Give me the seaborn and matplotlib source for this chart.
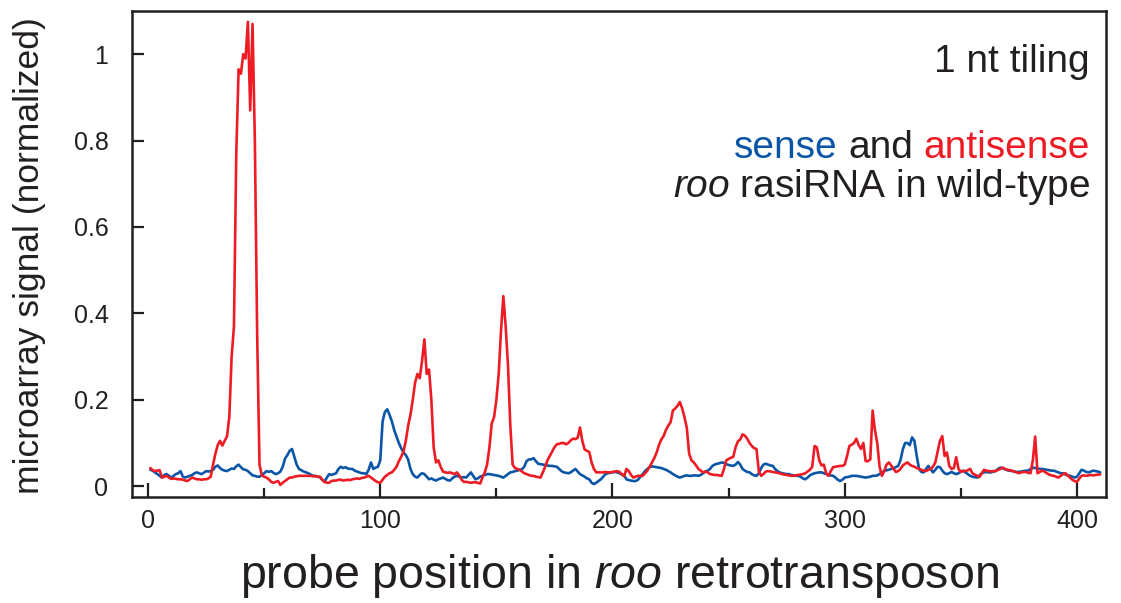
import matplotlib
matplotlib.use("Agg")
import matplotlib.pyplot as plt
import pandas as pd
import seaborn as sns

# Probe positions along roo (1 nt tiling)
positions = list(range(1, 411))

# Normalized microarray signal, sense strand
sense = [
    0.038, 0.036, 0.032, 0.028, 0.024, 0.020, 0.026, 0.028, 0.024, 0.020,
    0.024, 0.028, 0.030, 0.035, 0.022, 0.020, 0.022, 0.024, 0.026, 0.030,
    0.032, 0.030, 0.028, 0.031, 0.035, 0.034, 0.035, 0.038, 0.045, 0.048,
    0.042, 0.038, 0.036, 0.035, 0.038, 0.041, 0.040, 0.046, 0.050, 0.044,
    0.039, 0.038, 0.035, 0.030, 0.025, 0.024, 0.022, 0.022, 0.026, 0.030,
    0.035, 0.033, 0.035, 0.031, 0.028, 0.030, 0.034, 0.045, 0.064, 0.072,
    0.082, 0.086, 0.068, 0.050, 0.040, 0.037, 0.034, 0.032, 0.030, 0.027,
    0.024, 0.024, 0.022, 0.021, 0.015, 0.010, 0.020, 0.028, 0.026, 0.028,
    0.030, 0.040, 0.045, 0.042, 0.044, 0.041, 0.040, 0.040, 0.036, 0.034,
    0.032, 0.030, 0.030, 0.028, 0.038, 0.055, 0.040, 0.043, 0.045, 0.060,
    0.150, 0.172, 0.178, 0.165, 0.150, 0.130, 0.115, 0.100, 0.088, 0.078,
    0.072, 0.062, 0.040, 0.028, 0.022, 0.020, 0.026, 0.030, 0.028, 0.022,
    0.016, 0.018, 0.015, 0.013, 0.016, 0.018, 0.020, 0.017, 0.014, 0.013,
    0.018, 0.022, 0.024, 0.022, 0.020, 0.021, 0.020, 0.026, 0.032, 0.024,
    0.016, 0.018, 0.022, 0.024, 0.026, 0.028, 0.028, 0.027, 0.026, 0.025,
    0.024, 0.022, 0.020, 0.024, 0.028, 0.032, 0.033, 0.035, 0.036, 0.038,
    0.039, 0.045, 0.058, 0.062, 0.062, 0.065, 0.058, 0.052, 0.051, 0.050,
    0.049, 0.048, 0.047, 0.047, 0.046, 0.045, 0.040, 0.035, 0.032, 0.031,
    0.030, 0.032, 0.036, 0.040, 0.034, 0.028, 0.025, 0.022, 0.018, 0.016,
    0.008, 0.005, 0.008, 0.012, 0.016, 0.022, 0.028, 0.030, 0.031, 0.032,
    0.033, 0.032, 0.030, 0.027, 0.025, 0.016, 0.014, 0.013, 0.012, 0.012,
    0.015, 0.022, 0.028, 0.035, 0.040, 0.044, 0.046, 0.045, 0.044, 0.043,
    0.042, 0.040, 0.038, 0.035, 0.032, 0.028, 0.025, 0.022, 0.020, 0.022,
    0.024, 0.025, 0.024, 0.024, 0.025, 0.025, 0.024, 0.026, 0.030, 0.034,
    0.036, 0.040, 0.047, 0.050, 0.052, 0.053, 0.055, 0.054, 0.051, 0.049,
    0.048, 0.047, 0.050, 0.056, 0.050, 0.040, 0.036, 0.033, 0.032, 0.028,
    0.025, 0.024, 0.030, 0.042, 0.050, 0.052, 0.050, 0.048, 0.047, 0.040,
    0.035, 0.032, 0.030, 0.029, 0.028, 0.028, 0.026, 0.025, 0.024, 0.024,
    0.022, 0.018, 0.016, 0.020, 0.025, 0.028, 0.030, 0.031, 0.032, 0.032,
    0.030, 0.028, 0.026, 0.025, 0.024, 0.020, 0.015, 0.012, 0.015, 0.020,
    0.021, 0.022, 0.024, 0.024, 0.024, 0.023, 0.022, 0.021, 0.020, 0.021,
    0.022, 0.024, 0.024, 0.025, 0.028, 0.032, 0.035, 0.037, 0.038, 0.040,
    0.042, 0.044, 0.047, 0.060, 0.085, 0.100, 0.100, 0.095, 0.113, 0.105,
    0.070, 0.040, 0.033, 0.032, 0.040, 0.047, 0.040, 0.032, 0.038, 0.045,
    0.044, 0.036, 0.030, 0.028, 0.030, 0.033, 0.030, 0.028, 0.030, 0.034,
    0.036, 0.032, 0.028, 0.024, 0.022, 0.021, 0.020, 0.025, 0.030, 0.032,
    0.033, 0.032, 0.032, 0.034, 0.035, 0.040, 0.043, 0.042, 0.039, 0.037,
    0.036, 0.035, 0.034, 0.033, 0.033, 0.034, 0.035, 0.036, 0.036, 0.040,
    0.043, 0.042, 0.041, 0.040, 0.040, 0.039, 0.038, 0.037, 0.036, 0.036,
    0.034, 0.032, 0.030, 0.030, 0.027, 0.025, 0.024, 0.022, 0.020, 0.022,
    0.030, 0.038, 0.036, 0.033, 0.032, 0.034, 0.036, 0.035, 0.034, 0.032,
]

# Normalized microarray signal, antisense strand
antisense = [
    0.042, 0.037, 0.035, 0.036, 0.037, 0.020, 0.022, 0.024, 0.020, 0.017,
    0.018, 0.017, 0.016, 0.016, 0.015, 0.013, 0.012, 0.016, 0.020, 0.018,
    0.016, 0.016, 0.015, 0.016, 0.016, 0.018, 0.022, 0.050, 0.075, 0.095,
    0.105, 0.094, 0.105, 0.115, 0.160, 0.300, 0.370, 0.770, 0.965, 0.955,
    1.000, 0.990, 1.075, 0.870, 1.070, 0.800, 0.350, 0.050, 0.025, 0.022,
    0.020, 0.016, 0.010, 0.008, 0.010, 0.012, 0.003, 0.008, 0.012, 0.016,
    0.020, 0.020, 0.022, 0.023, 0.024, 0.024, 0.024, 0.024, 0.024, 0.024,
    0.023, 0.023, 0.022, 0.022, 0.015, 0.010, 0.008, 0.008, 0.012, 0.013,
    0.013, 0.015, 0.015, 0.013, 0.014, 0.015, 0.014, 0.016, 0.017, 0.018,
    0.017, 0.019, 0.020, 0.022, 0.024, 0.020, 0.016, 0.012, 0.009, 0.008,
    0.015, 0.022, 0.026, 0.030, 0.032, 0.038, 0.045, 0.058, 0.068, 0.080,
    0.105, 0.140, 0.165, 0.200, 0.240, 0.260, 0.250, 0.290, 0.340, 0.260,
    0.270, 0.200, 0.090, 0.055, 0.060, 0.045, 0.034, 0.032, 0.031, 0.032,
    0.030, 0.028, 0.032, 0.025, 0.015, 0.010, 0.010, 0.009, 0.008, 0.009,
    0.009, 0.008, 0.006, 0.020, 0.032, 0.050, 0.090, 0.145, 0.160, 0.200,
    0.260, 0.360, 0.440, 0.370, 0.280, 0.140, 0.050, 0.042, 0.040, 0.038,
    0.034, 0.030, 0.028, 0.026, 0.024, 0.024, 0.022, 0.021, 0.020, 0.032,
    0.045, 0.060, 0.070, 0.080, 0.090, 0.097, 0.098, 0.100, 0.100, 0.097,
    0.100, 0.106, 0.110, 0.109, 0.112, 0.136, 0.105, 0.085, 0.082, 0.079,
    0.055, 0.040, 0.032, 0.032, 0.032, 0.032, 0.033, 0.032, 0.032, 0.033,
    0.034, 0.035, 0.033, 0.028, 0.023, 0.040, 0.035, 0.026, 0.020, 0.022,
    0.024, 0.024, 0.024, 0.030, 0.036, 0.045, 0.055, 0.065, 0.078, 0.095,
    0.108, 0.116, 0.130, 0.140, 0.148, 0.175, 0.180, 0.186, 0.195, 0.180,
    0.160, 0.135, 0.075, 0.060, 0.055, 0.048, 0.040, 0.036, 0.032, 0.034,
    0.032, 0.028, 0.027, 0.026, 0.026, 0.025, 0.024, 0.040, 0.060, 0.063,
    0.066, 0.068, 0.090, 0.104, 0.108, 0.120, 0.117, 0.110, 0.100, 0.093,
    0.088, 0.086, 0.035, 0.024, 0.028, 0.034, 0.035, 0.034, 0.033, 0.032,
    0.031, 0.030, 0.028, 0.027, 0.026, 0.025, 0.024, 0.024, 0.025, 0.026,
    0.027, 0.028, 0.030, 0.034, 0.038, 0.045, 0.093, 0.090, 0.060, 0.048,
    0.050, 0.030, 0.024, 0.035, 0.044, 0.045, 0.046, 0.047, 0.047, 0.050,
    0.070, 0.093, 0.096, 0.100, 0.110, 0.095, 0.086, 0.100, 0.058, 0.058,
    0.062, 0.175, 0.130, 0.100, 0.045, 0.024, 0.035, 0.050, 0.055, 0.048,
    0.040, 0.033, 0.035, 0.040, 0.048, 0.052, 0.055, 0.050, 0.047, 0.045,
    0.042, 0.040, 0.038, 0.036, 0.035, 0.038, 0.040, 0.045, 0.055, 0.080,
    0.105, 0.116, 0.070, 0.078, 0.047, 0.040, 0.042, 0.067, 0.040, 0.033,
    0.035, 0.035, 0.037, 0.040, 0.030, 0.027, 0.024, 0.021, 0.030, 0.038,
    0.036, 0.035, 0.034, 0.035, 0.035, 0.038, 0.040, 0.043, 0.040, 0.038,
    0.037, 0.036, 0.034, 0.032, 0.030, 0.032, 0.033, 0.033, 0.031, 0.030,
    0.060, 0.115, 0.030, 0.033, 0.036, 0.034, 0.030, 0.027, 0.025, 0.024,
    0.022, 0.020, 0.024, 0.028, 0.030, 0.025, 0.020, 0.015, 0.012, 0.010,
    0.018, 0.024, 0.025, 0.024, 0.025, 0.026, 0.025, 0.026, 0.027, 0.027,
]

strands = ["sense", "antisense"]
x_ticks = [0, 100, 200, 300, 400]
x_minor_ticks = [50, 150, 250, 350]
y_ticks = [0, 0.2, 0.4, 0.6, 0.8, 1.0]
y_tick_labels = ["0", "0.2", "0.4", "0.6", "0.8", "1"]

SENSE_COLOR = "#0a55a6"
ANTISENSE_COLOR = "#ed1c24"
INK = "#231f20"

sns.set_style("ticks")
plt.rcParams["font.family"] = ["Liberation Sans", "DejaVu Sans"]
plt.rcParams["mathtext.fontset"] = "custom"
plt.rcParams["mathtext.rm"] = "Liberation Sans"
plt.rcParams["mathtext.it"] = "Liberation Sans:italic"
plt.rcParams["xtick.direction"] = "in"
plt.rcParams["ytick.direction"] = "in"

df = pd.DataFrame({
    "position": positions + positions,
    "signal": sense + antisense,
    "strand": [strands[0]] * len(sense) + [strands[1]] * len(antisense),
})

W, H = 1121, 603
fig = plt.figure(figsize=(W / 100, H / 100), dpi=100)
ax = fig.add_axes([132 / W, 1 - 497 / H, (1106 - 132) / W, (497 - 11) / H])

sns.lineplot(
    data=df, x="position", y="signal", hue="strand", hue_order=strands,
    palette=[SENSE_COLOR, ANTISENSE_COLOR], linewidth=1.9,
    estimator=None, legend=False, ax=ax,
)

ax.set_xlim(-6.9, 412.5)
ax.set_ylim(-0.025, 1.1)
ax.set_xticks(x_ticks)
ax.set_xticks(x_minor_ticks, minor=True)
ax.set_yticks(y_ticks, y_tick_labels)

for side in ["left", "right", "top", "bottom"]:
    ax.spines[side].set_visible(True)
    ax.spines[side].set_linewidth(1.8)
    ax.spines[side].set_color(INK)

ax.tick_params(axis="x", which="major", direction="in", length=10, width=1.6,
               pad=9, color=INK, labelcolor=INK, labelsize=18)
ax.tick_params(axis="x", which="minor", direction="in", length=6.5,
               width=1.6, color=INK)
ax.tick_params(axis="y", which="major", direction="in", length=8.6,
               width=1.6, pad=17, color=INK, labelcolor=INK, labelsize=18)
ax.tick_params(axis="both", which="both", top=False, right=False)

ax.set_xlabel(r"probe position in $\mathit{roo}$ retrotransposon",
              fontsize=33.5, color=INK)
ax.xaxis.set_label_coords(0.5, (497 - 588) / 486)
ax.xaxis.label.set_va("baseline")
ax.set_ylabel("microarray signal (normalized)", fontsize=25.5, color=INK)
ax.yaxis.set_label_coords((46 - 132) / 974, 0.496)


def fx(px):
    return px / W


def fy(py):
    return 1 - py / H


TXT = 28
space_pt = 0.278 * TXT
fig.text(fx(1090), fy(71.7), "1 nt tiling", ha="right", va="baseline",
         fontsize=TXT, color=INK)

# Two-colour caption line, built right to left
t_anti = fig.text(fx(1090), fy(158.3), "antisense", ha="right",
                  va="baseline", fontsize=TXT, color=ANTISENSE_COLOR)
t_and = ax.annotate("and", xy=(0, 0), xycoords=t_anti,
                    xytext=(-space_pt, 0), textcoords="offset points",
                    ha="right", va="bottom", fontsize=TXT, color=INK,
                    annotation_clip=False)
ax.annotate("sense", xy=(0, 0), xycoords=t_and,
            xytext=(-space_pt, 0), textcoords="offset points",
            ha="right", va="bottom", fontsize=TXT, color=SENSE_COLOR,
            annotation_clip=False)

fig.text(fx(1090), fy(196.7), r"$\mathit{roo}$ rasiRNA in wild-type",
         ha="right", va="baseline", fontsize=TXT, color=INK)

fig.savefig("out.png", dpi=100)
